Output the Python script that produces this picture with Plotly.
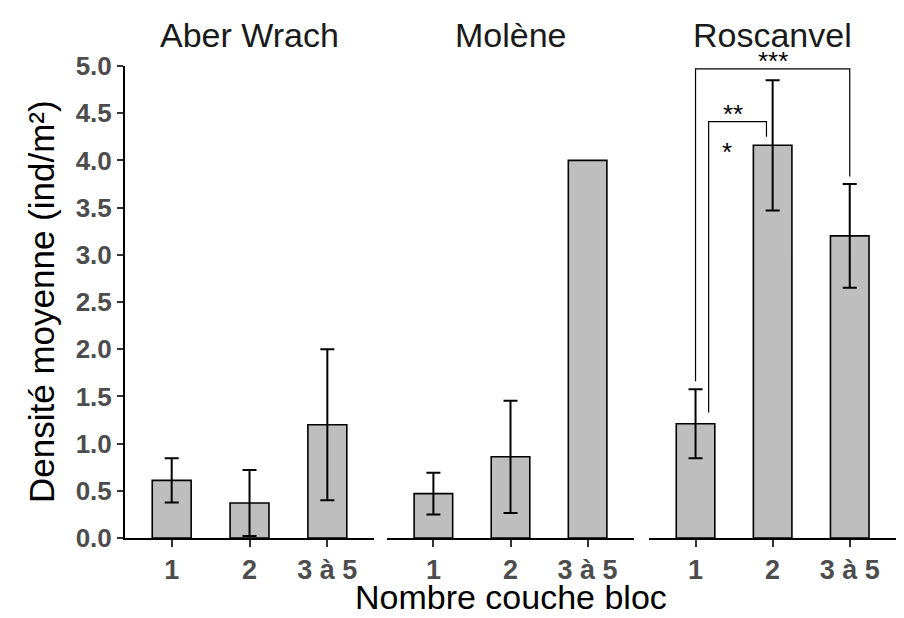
import plotly.graph_objects as go

categories = ["1", "2", "3 à 5"]
sites = ["Aber Wrach", "Molène", "Roscanvel"]
means = {
    "Aber Wrach": [0.61, 0.37, 1.20],
    "Molène": [0.47, 0.86, 4.00],
    "Roscanvel": [1.21, 4.16, 3.20],
}
errors = {
    "Aber Wrach": [0.235, 0.35, 0.80],
    "Molène": [0.22, 0.595, None],
    "Roscanvel": [0.365, 0.69, 0.55],
}
y_ticks = [0.0, 0.5, 1.0, 1.5, 2.0, 2.5, 3.0, 3.5, 4.0, 4.5, 5.0]
y_tick_labels = ["0.0", "0.5", "1.0", "1.5", "2.0", "2.5", "3.0", "3.5", "4.0", "4.5", "5.0"]

# significance brackets (Roscanvel): x-left, x-right, y-top, left-drop, right-drop, label
brackets = [
    (0.0, 2.0, 4.97, 1.66, 3.83, "***"),
    (0.17, 0.92, 4.41, 1.33, 4.25, "**"),
]

FONT = "Liberation Sans"
domains = [[0.0, 0.323], [0.340, 0.660], [0.680, 1.0]]

fig = go.Figure()
for i, site in enumerate(sites):
    sfx = "" if i == 0 else str(i + 1)
    fig.add_trace(go.Bar(
        x=categories, y=means[site],
        xaxis="x" + sfx, yaxis="y" + sfx,
        width=0.5,
        marker=dict(color="#BEBEBE", line=dict(color="black", width=1.6)),
        showlegend=False, hoverinfo="skip",
    ))
    ex = [c for c, e in zip(categories, errors[site]) if e is not None]
    ey = [m for m, e in zip(means[site], errors[site]) if e is not None]
    ee = [e for e in errors[site] if e is not None]
    fig.add_trace(go.Scatter(
        x=ex, y=ey, mode="markers", marker=dict(size=1, opacity=0),
        xaxis="x" + sfx, yaxis="y" + sfx,
        error_y=dict(type="data", array=ee, symmetric=True,
                     color="black", thickness=2, width=7),
        showlegend=False, cliponaxis=False,
    ))
    fig.update_layout(**{
        "xaxis" + sfx: dict(
            domain=domains[i], anchor="y" + sfx, type="category",
            categoryorder="array", categoryarray=categories,
            range=[-0.6, 2.6], showline=True, linecolor="black", linewidth=2,
            ticks="outside", ticklen=7, tickwidth=2, tickcolor="#333333",
            tickfont=dict(family=FONT, size=27, color="#4D4D4D", weight="bold"),
            showgrid=False, zeroline=False, fixedrange=True,
        ),
        "yaxis" + sfx: dict(
            domain=[0, 1], anchor="x" + sfx, range=[0, 5.0],
            tickvals=y_ticks, ticktext=y_tick_labels,
            showline=(i == 0), linecolor="black", linewidth=2,
            ticks="outside" if i == 0 else "", ticklen=6, tickwidth=2, tickcolor="#333333",
            showticklabels=(i == 0),
            tickfont=dict(family=FONT, size=26, color="#4D4D4D", weight="bold"),
            showgrid=False, zeroline=False,
        ),
    })
    fig.add_annotation(
        text=site, xref="x" + sfx + " domain", yref="paper",
        x=0.5, y=1.0, yshift=10, yanchor="bottom", showarrow=False,
        font=dict(family=FONT, size=34, color="#1A1A1A"),
    )

for (xl, xr, yt, yl, yr, lab) in brackets:
    fig.add_shape(type="path",
                  path=f"M {xl} {yl} L {xl} {yt} L {xr} {yt} L {xr} {yr}",
                  xref="x3", yref="y3", line=dict(color="black", width=1.2))
    fig.add_annotation(text=lab, xref="x3", yref="y3", x=(xl + xr) / 2 - (0.06 if lab == "**" else 0),
                       y=yt, yanchor="bottom", yshift=-9, showarrow=False,
                       font=dict(family=FONT, size=26, color="black"))
fig.add_annotation(text="*", xref="x3", yref="y3", x=0.41, y=4.16, yanchor="middle",
                   yshift=-7, showarrow=False, font=dict(family=FONT, size=26, color="black"))

fig.add_annotation(text="Densité moyenne (ind/m²)", xref="paper", yref="paper",
                   x=0, xshift=-84, y=0.5, textangle=-90, showarrow=False,
                   xanchor="center", yanchor="middle",
                   font=dict(family=FONT, size=35, color="black"))
fig.add_annotation(text="Nombre couche bloc", xref="paper", yref="paper",
                   x=0.5, y=0, yshift=-80, showarrow=False,
                   xanchor="center", yanchor="bottom",
                   font=dict(family=FONT, size=34, color="black"))

fig.update_layout(
    width=904, height=618,
    margin=dict(l=125, r=8, t=66, b=80),
    paper_bgcolor="white", plot_bgcolor="white",
    bargap=0.5,
)
fig.write_html("out.html")
